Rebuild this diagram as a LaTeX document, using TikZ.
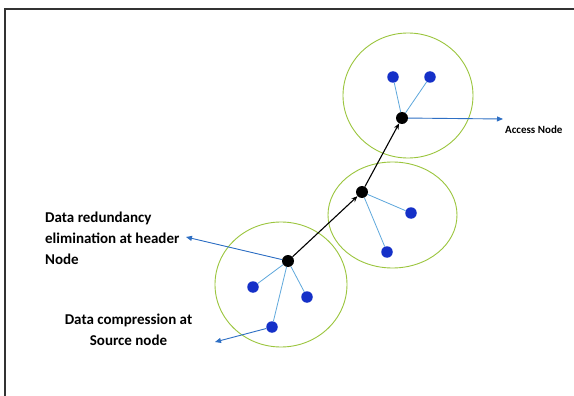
\documentclass[tikz,border=0pt]{standalone}
\usepackage{fontspec}
\setmainfont{Carlito}
\usetikzlibrary{arrows.meta}
\definecolor{ringgreen}{HTML}{9BC53D}
\definecolor{dotblue}{HTML}{1530C8}
\definecolor{linkblue}{HTML}{5FA8DC}
\definecolor{arrblue}{HTML}{2E6FC4}
\tikzset{
  ring/.style={draw=ringgreen, line width=0.9pt},
  head/.style={circle, fill=black, inner sep=0pt, minimum size=12pt},
  member/.style={circle, fill=dotblue, inner sep=0pt, minimum size=11.5pt},
  link/.style={draw=linkblue, line width=0.8pt},
  outarrow/.style={draw=arrblue, line width=0.9pt, -{Triangle[length=6pt,width=5pt]}},
  route/.style={draw=black, line width=1.1pt, -{Stealth[length=6pt,width=5pt]}},
  label/.style={font=\bfseries\fontsize{15}{21}\selectfont, inner sep=0pt, align=left}
}
\begin{document}
\begin{tikzpicture}[x=1pt,y=-1pt]
\useasboundingbox (0,0) rectangle (574,396);
\fill[white] (0,0) rectangle (574,396);
\draw[line width=1.6pt, draw=black!80] (5,400) -- (5,9) -- (580,9);

% rings
\draw[ring] (408,95.5) ellipse [x radius=65, y radius=62.5];
\draw[ring] (392.5,215) ellipse [x radius=64.5, y radius=53];
\draw[ring] (281,284.5) ellipse [x radius=66, y radius=62.5];

% cluster heads
\node[head] (h1) at (288,261) {};
\node[head] (h2) at (362,192) {};
\node[head] (h3) at (402,118) {};

% members
\node[member] (a1) at (253,287) {};
\node[member] (a2) at (307,297) {};
\node[member] (a3) at (272,327) {};
\node[member] (b1) at (411,213) {};
\node[member] (b2) at (387,252) {};
\node[member] (c1) at (393,77) {};
\node[member] (c2) at (430,77) {};

% member links
\draw[link] (h1) -- (a1);
\draw[link] (h1) -- (a2);
\draw[link] (h1) -- (a3);
\draw[link] (h2) -- (b1);
\draw[link] (h2) -- (b2);
\draw[link] (h3) -- (c1);
\draw[link] (h3) -- (c2);

% route
\draw[route] (h1) -- (h2);
\draw[route] (h2) -- (h3);

% outgoing arrows
\coordinate (accessend) at (503,119);
\coordinate (headerend) at (186,237);
\coordinate (sourceend) at (215,342);
\draw[outarrow] (h3) -- (accessend);
\draw[outarrow] (h1) -- (headerend);
\draw[outarrow] (a3) -- (sourceend);

% labels
\node[font=\bfseries\fontsize{11}{13}\selectfont, inner sep=0pt, anchor=west] (accesslbl) at (505,130) {Access Node};
\node[label, anchor=north west] (headerlbl) at (45,212) {Data redundancy\\elimination at header\\Node};
\node[label, align=center, anchor=north] (sourcelbl) at (128.5,314) {Data compression at\\Source node};
\end{tikzpicture}
\end{document}
